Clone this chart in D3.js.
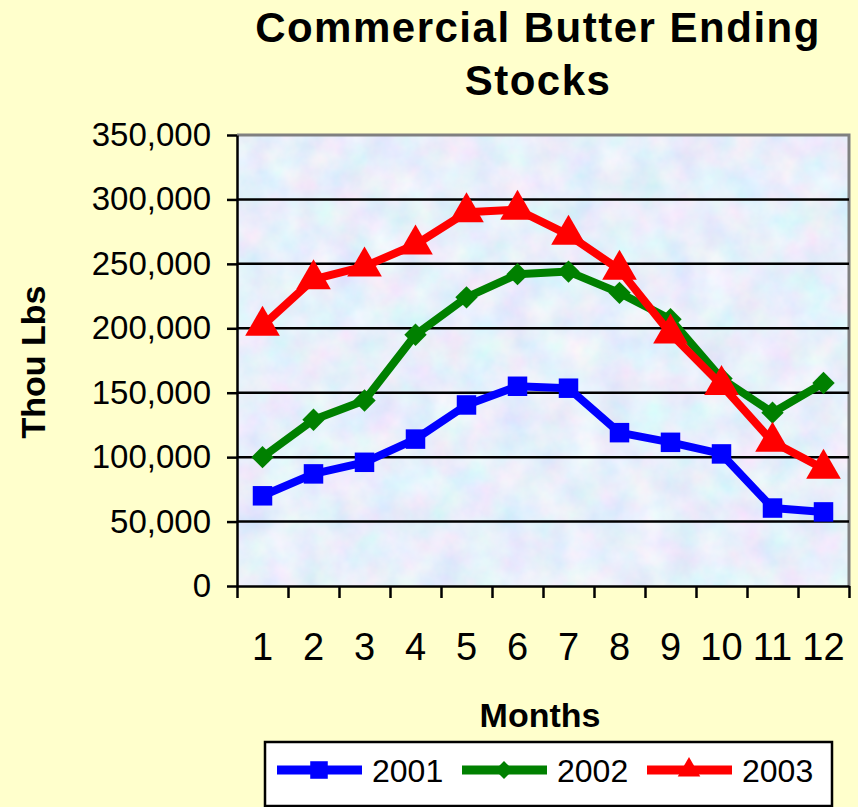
<!DOCTYPE html>
<meta charset="utf-8">
<style>
body { margin: 0; background: #ffffcc; }
svg { display: block; font-family: "Liberation Sans", Arial, sans-serif; }
.line { fill: none; stroke-width: 8px; stroke-linejoin: round; }
.grid line { stroke: #000; stroke-width: 2.5px; }
.axis path, .axis line { stroke: #000; stroke-width: 2.5px; }
.axis text { fill: #000; }
</style>
<svg width="858" height="807"></svg>
<script src="https://cdn.jsdelivr.net/npm/d3@7"></script>
<script>
var months = [1, 2, 3, 4, 5, 6, 7, 8, 9, 10, 11, 12];
var stocks2001 = [70000, 87000, 96000, 114000, 140500, 155000, 153500, 119000, 111500, 102500, 60500, 57500];
var stocks2002 = [100000, 129000, 144000, 195000, 224000, 242000, 244000, 227500, 207000, 161000, 134500, 157500];
var stocks2003 = [202000, 238000, 248000, 265000, 290000, 292000, 272500, 245500, 196000, 156000, 112000, 91000];
var yTicks = [0, 50000, 100000, 150000, 200000, 250000, 300000, 350000];

var series = [
  {name: "2001", values: stocks2001, color: "#0000ff", marker: "square"},
  {name: "2002", values: stocks2002, color: "#008000", marker: "diamond"},
  {name: "2003", values: stocks2003, color: "#ff0000", marker: "triangle"}
];

var svg = d3.select("svg"),
    plotLeft = 237, plotRight = 849, plotTop = 135, plotBottom = 586;

var x = d3.scaleBand().domain(months).range([plotLeft, plotRight]),
    xb = d3.scaleLinear().domain([0, 12]).range([plotLeft, plotRight]),
    y = d3.scaleLinear().domain([0, 350000]).range([plotBottom, plotTop]);

// mottled plot background
var defs = svg.append("defs");
var f = defs.append("filter").attr("id", "tex")
    .attr("x", 0).attr("y", 0).attr("width", 1).attr("height", 1);
f.append("feTurbulence").attr("type", "fractalNoise")
    .attr("baseFrequency", "0.03").attr("numOctaves", 4).attr("seed", 7);
f.append("feColorMatrix").attr("type", "matrix")
    .attr("values", "0.4 0 0 0 0.6  0 0.25 0 0 0.74  0 0 0.12 0 0.9  0 0 0 0 1");

svg.append("rect")
    .attr("x", plotLeft).attr("y", plotTop)
    .attr("width", plotRight - plotLeft).attr("height", plotBottom - plotTop)
    .attr("fill", "#d0e2f6")
    .attr("filter", "url(#tex)");

// plot border (top/right grey)
svg.append("path")
    .attr("d", "M" + plotLeft + "," + plotTop + "H" + plotRight + "V" + plotBottom)
    .attr("fill", "none").attr("stroke", "#808080").attr("stroke-width", 3);

svg.append("g").attr("class", "grid")
  .selectAll("line")
  .data(yTicks.filter(function(d) { return d > 0 && d < 350000; }))
  .enter().append("line")
    .attr("x1", plotLeft).attr("x2", plotRight)
    .attr("y1", function(d) { return y(d); })
    .attr("y2", function(d) { return y(d); });

// y axis
svg.append("g")
    .attr("class", "axis")
    .attr("transform", "translate(" + plotLeft + ",0)")
    .call(d3.axisLeft(y).tickValues(yTicks).tickFormat(d3.format(",")).tickSize(10).tickPadding(16).tickSizeOuter(0))
    .selectAll("text")
    .style("font-size", "33px");

// x axis ticks at category boundaries
svg.append("g")
    .attr("class", "axis")
    .attr("transform", "translate(0," + plotBottom + ")")
    .call(d3.axisBottom(xb).tickValues(d3.range(0, 13)).tickFormat("").tickSize(12).tickSizeOuter(0));

// x labels
var xl = svg.append("g")
    .attr("class", "axis")
    .attr("transform", "translate(0," + plotBottom + ")")
    .call(d3.axisBottom(x).tickSize(0).tickPadding(47));
xl.select(".domain").remove();
xl.selectAll("text").style("font-size", "38px");

var line = d3.line()
    .x(function(d, i) { return x(months[i]) + x.bandwidth() / 2; })
    .y(function(d) { return y(d); });

var shapes = {
  square: d3.symbol().type(d3.symbolSquare).size(380),
  diamond: d3.symbol().type(d3.symbolSquare).size(250),
  triangle: d3.symbol().type(d3.symbolTriangle).size(520)
};

var s = svg.selectAll(".series")
  .data(series)
  .enter().append("g")
    .attr("class", "series");

s.append("path")
    .attr("class", "line")
    .attr("d", function(d) { return line(d.values); })
    .style("stroke", function(d) { return d.color; });

s.each(function(d) {
  d3.select(this).selectAll(".pt")
    .data(d.values)
    .enter().append("path")
      .attr("class", "pt")
      .attr("d", shapes[d.marker]())
      .attr("fill", d.color)
      .attr("transform", function(v, i) {
        var t = "translate(" + (x(months[i]) + x.bandwidth() / 2) + "," + y(v) + ")";
        return d.marker === "diamond" ? t + " rotate(45)" : t;
      });
});

// titles
var title = svg.append("text")
    .attr("text-anchor", "middle")
    .style("font-size", "42px").style("font-weight", "bold")
    .style("letter-spacing", "1.5px");
title.append("tspan").attr("x", 538).attr("y", 42).text("Commercial Butter Ending");
title.append("tspan").attr("x", 538).attr("y", 95).text("Stocks");

svg.append("text")
    .attr("text-anchor", "middle")
    .attr("transform", "translate(45,362) rotate(-90)")
    .style("font-size", "34px").style("font-weight", "bold")
    .text("Thou Lbs");

svg.append("text")
    .attr("x", 540).attr("y", 727)
    .attr("text-anchor", "middle")
    .style("font-size", "34px").style("font-weight", "bold")
    .text("Months");

// legend
var legend = svg.append("g");
legend.append("rect")
    .attr("x", 265).attr("y", 742).attr("width", 567).attr("height", 64)
    .attr("fill", "#fff").attr("stroke", "#000").attr("stroke-width", 2.5);

var le = legend.selectAll(".le")
  .data(series)
  .enter().append("g")
    .attr("class", "le")
    .attr("transform", function(d, i) { return "translate(" + (277 + i * 185) + ",770)"; });

le.append("line")
    .attr("x1", 0).attr("x2", 85)
    .attr("stroke", function(d) { return d.color; })
    .attr("stroke-width", 9);

le.append("path")
    .attr("d", function(d) { return shapes[d.marker](); })
    .attr("fill", function(d) { return d.color; })
    .attr("transform", function(d) {
      if (d.marker === "diamond") return "translate(42,0) rotate(45) scale(0.8)";
      if (d.marker === "triangle") return "translate(42,0) scale(0.65)";
      return "translate(42,0) scale(0.9)";
    });

le.append("text")
    .attr("x", 95).attr("y", 12)
    .style("font-size", "32px")
    .text(function(d) { return d.name; });
</script>
